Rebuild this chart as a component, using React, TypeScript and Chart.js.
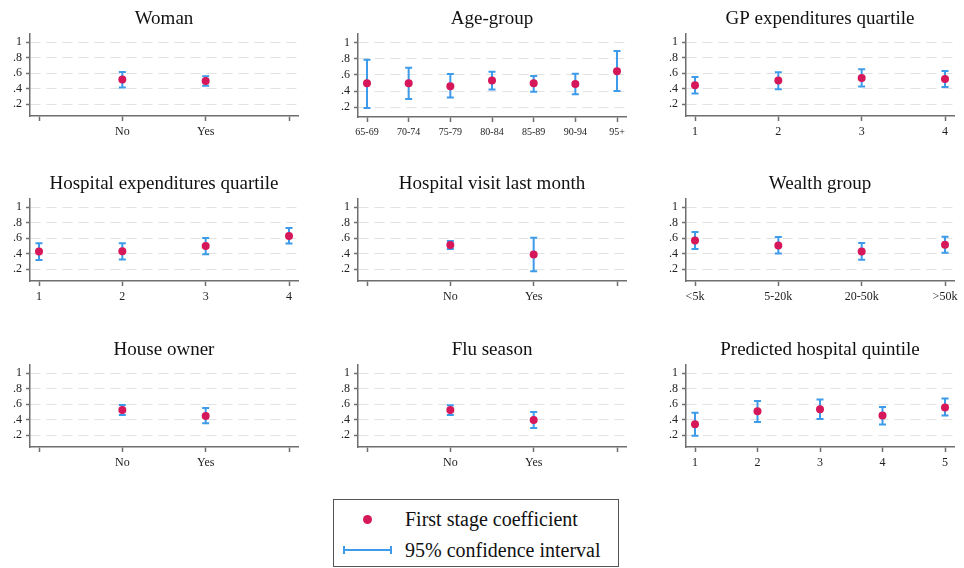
import React, { useEffect, useRef } from "react";
import { Chart, registerables } from "chart.js";
Chart.register(...registerables);

const FONT = "'Liberation Serif', 'Times New Roman', serif";
const POINT_COLOR = "#d6175a";
const CI_COLOR = "#3d9be9";
const AXIS_COLOR = "#6e6e6e";
const GRID_COLOR = "#e2e2e2";

// ---- data ----
const yTickValues = [0.2, 0.4, 0.6, 0.8, 1];

const womanLabels = ["", "No", "Yes", ""];
const womanX = [1, 2];
const womanCoef = [0.52, 0.5];
const womanLo = [0.415, 0.44];
const womanHi = [0.617, 0.56];

const ageLabels = ["65-69", "70-74", "75-79", "80-84", "85-89", "90-94", "95+"];
const ageX = [0, 1, 2, 3, 4, 5, 6];
const ageCoef = [0.495, 0.495, 0.46, 0.53, 0.495, 0.487, 0.647];
const ageLo = [0.19, 0.3, 0.32, 0.42, 0.39, 0.36, 0.4];
const ageHi = [0.79, 0.69, 0.61, 0.64, 0.585, 0.613, 0.897];

const gpLabels = ["1", "2", "3", "4"];
const gpX = [0, 1, 2, 3];
const gpCoef = [0.445, 0.505, 0.54, 0.526];
const gpLo = [0.34, 0.393, 0.43, 0.423];
const gpHi = [0.552, 0.613, 0.65, 0.63];

const hospLabels = ["1", "2", "3", "4"];
const hospX = [0, 1, 2, 3];
const hospCoef = [0.428, 0.432, 0.5, 0.63];
const hospLo = [0.32, 0.325, 0.394, 0.531];
const hospHi = [0.535, 0.535, 0.604, 0.733];

const visitLabels = ["", "No", "Yes", ""];
const visitX = [1, 2];
const visitCoef = [0.512, 0.39];
const visitLo = [0.46, 0.174];
const visitHi = [0.564, 0.606];

const wealthLabels = ["<5k", "5-20k", "20-50k", ">50k"];
const wealthX = [0, 1, 2, 3];
const wealthCoef = [0.572, 0.508, 0.43, 0.517];
const wealthLo = [0.46, 0.405, 0.324, 0.414];
const wealthHi = [0.68, 0.615, 0.538, 0.62];

const houseLabels = ["", "No", "Yes", ""];
const houseX = [1, 2];
const houseCoef = [0.527, 0.45];
const houseLo = [0.462, 0.355];
const houseHi = [0.59, 0.55];

const fluLabels = ["", "No", "Yes", ""];
const fluX = [1, 2];
const fluCoef = [0.527, 0.398];
const fluLo = [0.462, 0.295];
const fluHi = [0.587, 0.5];

const predLabels = ["1", "2", "3", "4", "5"];
const predX = [0, 1, 2, 3, 4];
const predCoef = [0.342, 0.51, 0.535, 0.454, 0.557];
const predLo = [0.196, 0.372, 0.41, 0.338, 0.454];
const predHi = [0.49, 0.643, 0.66, 0.565, 0.673];

type PanelCfg = {
  title: string;
  labels: string[];
  xs: number[];
  coef: number[];
  lo: number[];
  hi: number[];
  xFont: number;
  xHeight: number;
  yMin: number;
  yMax: number;
};

const panels: PanelCfg[] = [
  { title: "Woman", labels: womanLabels, xs: womanX, coef: womanCoef, lo: womanLo, hi: womanHi, xFont: 12, xHeight: 34, yMin: 0.05, yMax: 1.107 },
  { title: "Age-group", labels: ageLabels, xs: ageX, coef: ageCoef, lo: ageLo, hi: ageHi, xFont: 10, xHeight: 33, yMin: 0.077, yMax: 1.111 },
  { title: "GP expenditures quartile", labels: gpLabels, xs: gpX, coef: gpCoef, lo: gpLo, hi: gpHi, xFont: 12, xHeight: 34, yMin: 0.05, yMax: 1.107 },
  { title: "Hospital expenditures quartile", labels: hospLabels, xs: hospX, coef: hospCoef, lo: hospLo, hi: hospHi, xFont: 12, xHeight: 34, yMin: 0.05, yMax: 1.107 },
  { title: "Hospital visit last month", labels: visitLabels, xs: visitX, coef: visitCoef, lo: visitLo, hi: visitHi, xFont: 12, xHeight: 34, yMin: 0.05, yMax: 1.107 },
  { title: "Wealth group", labels: wealthLabels, xs: wealthX, coef: wealthCoef, lo: wealthLo, hi: wealthHi, xFont: 12, xHeight: 34, yMin: 0.05, yMax: 1.107 },
  { title: "House owner", labels: houseLabels, xs: houseX, coef: houseCoef, lo: houseLo, hi: houseHi, xFont: 12, xHeight: 34, yMin: 0.05, yMax: 1.107 },
  { title: "Flu season", labels: fluLabels, xs: fluX, coef: fluCoef, lo: fluLo, hi: fluHi, xFont: 12, xHeight: 34, yMin: 0.05, yMax: 1.107 },
  { title: "Predicted hospital quintile", labels: predLabels, xs: predX, coef: predCoef, lo: predLo, hi: predHi, xFont: 12, xHeight: 34, yMin: 0.05, yMax: 1.107 },
];

const colLefts = [0, 328, 656];
const rowTops = [0, 165, 331];
const CANVAS_W = 310;
const CANVAS_H = 150;

function fmtY(v: number): string {
  if (Math.abs(v - 1) < 1e-9) return "1";
  return "." + Math.round(v * 10);
}

function Panel({ cfg, left, top }: { cfg: PanelCfg; left: number; top: number }) {
  const ref = useRef<HTMLCanvasElement | null>(null);
  useEffect(() => {
    if (!ref.current) return;
    const n = cfg.labels.length;
    const pad = ((n - 1) * 9) / 250;
    const positions = cfg.labels.map((_, i) => i);
    const ciSets = cfg.xs.map((x, i) => ({
      type: "scatter" as const,
      data: [
        { x, y: cfg.lo[i] },
        { x, y: cfg.hi[i] },
      ],
      showLine: true,
      borderColor: CI_COLOR,
      borderWidth: 2,
      pointStyle: "line" as const,
      pointRadius: 3.5,
      pointBorderWidth: 2,
      pointBorderColor: CI_COLOR,
      pointHoverRadius: 3.5,
    }));
    const chart = new Chart(ref.current, {
      type: "scatter",
      data: {
        datasets: [
          {
            data: cfg.xs.map((x, i) => ({ x, y: cfg.coef[i] })),
            pointRadius: 4,
            pointHoverRadius: 4,
            pointBackgroundColor: POINT_COLOR,
            pointBorderColor: POINT_COLOR,
            pointBorderWidth: 0,
            showLine: false,
          },
          ...ciSets,
        ] as any,
      },
      options: {
        animation: false,
        responsive: false,
        maintainAspectRatio: false,
        events: [],
        layout: { padding: { left: 0, right: 12, top: 0, bottom: 0 } },
        plugins: {
          legend: { display: false },
          tooltip: { enabled: false },
          title: {
            display: true,
            text: cfg.title,
            fullSize: false,
            color: "#111",
            font: { family: FONT, size: 19, weight: "normal" as any },
            padding: { top: 8, bottom: 3 },
          },
        },
        scales: {
          x: {
            type: "linear",
            min: -pad,
            max: n - 1 + pad,
            afterBuildTicks: (s: any) => {
              s.ticks = positions.map((v) => ({ value: v }));
            },
            afterFit: (s: any) => {
              s.height = cfg.xHeight;
            },
            ticks: {
              autoSkip: false,
              maxRotation: 0,
              minRotation: 0,
              padding: 4,
              color: "#222",
              font: { family: FONT, size: cfg.xFont },
              callback: (_v: any, i: number) => cfg.labels[i],
            },
            grid: {
              drawOnChartArea: false,
              drawTicks: true,
              tickLength: 5,
              tickColor: AXIS_COLOR,
              tickWidth: 1.5,
            },
            border: { color: AXIS_COLOR, width: 1.5 },
          },
          y: {
            type: "linear",
            min: cfg.yMin,
            max: cfg.yMax,
            afterBuildTicks: (s: any) => {
              s.ticks = yTickValues.map((v) => ({ value: v }));
            },
            afterFit: (s: any) => {
              s.width = 30;
            },
            ticks: {
              padding: 4,
              color: "#222",
              font: { family: FONT, size: 12 },
              callback: (v: any) => fmtY(Number(v)),
            },
            grid: {
              color: GRID_COLOR,
              lineWidth: 1,
              drawTicks: true,
              tickLength: 4,
              tickColor: AXIS_COLOR,
              tickWidth: 1.5,
              tickBorderDash: [],
            },
            border: { color: AXIS_COLOR, width: 1.5, dash: [10, 6] },
          },
        },
      } as any,
    });
    return () => chart.destroy();
  }, [cfg]);
  return (
    <canvas
      ref={ref}
      width={CANVAS_W}
      height={CANVAS_H}
      style={{ position: "absolute", left, top, width: CANVAS_W, height: CANVAS_H }}
    />
  );
}

export default function App() {
  useEffect(() => {
    document.body.style.margin = "0";
    document.body.style.background = "#fff";
  }, []);
  return (
    <div
      style={{
        position: "absolute",
        left: 0,
        top: 0,
        width: 964,
        height: 568,
        overflow: "hidden",
        background: "#fff",
      }}
    >
      {panels.map((p, i) => (
        <Panel key={i} cfg={p} left={colLefts[i % 3]} top={rowTops[Math.floor(i / 3)]} />
      ))}
      <div
        style={{
          position: "absolute",
          left: 333,
          top: 499,
          width: 286,
          height: 68,
          boxSizing: "border-box",
          border: "1px solid #555",
          background: "#fff",
          fontFamily: FONT,
          fontSize: 20,
          color: "#111",
        }}
      >
        <div
          style={{
            position: "absolute",
            left: 29,
            top: 14.5,
            width: 9,
            height: 9,
            borderRadius: "50%",
            background: POINT_COLOR,
          }}
        />
        <div style={{ position: "absolute", left: 71, top: 8, lineHeight: "22px", whiteSpace: "nowrap" }}>
          First stage coefficient
        </div>
        <div style={{ position: "absolute", left: 9, top: 49, width: 49, height: 2, background: CI_COLOR }} />
        <div style={{ position: "absolute", left: 9, top: 46, width: 2, height: 8, background: CI_COLOR }} />
        <div style={{ position: "absolute", left: 56, top: 46, width: 2, height: 8, background: CI_COLOR }} />
        <div style={{ position: "absolute", left: 71, top: 39, lineHeight: "22px", whiteSpace: "nowrap" }}>
          95% confidence interval
        </div>
      </div>
    </div>
  );
}
